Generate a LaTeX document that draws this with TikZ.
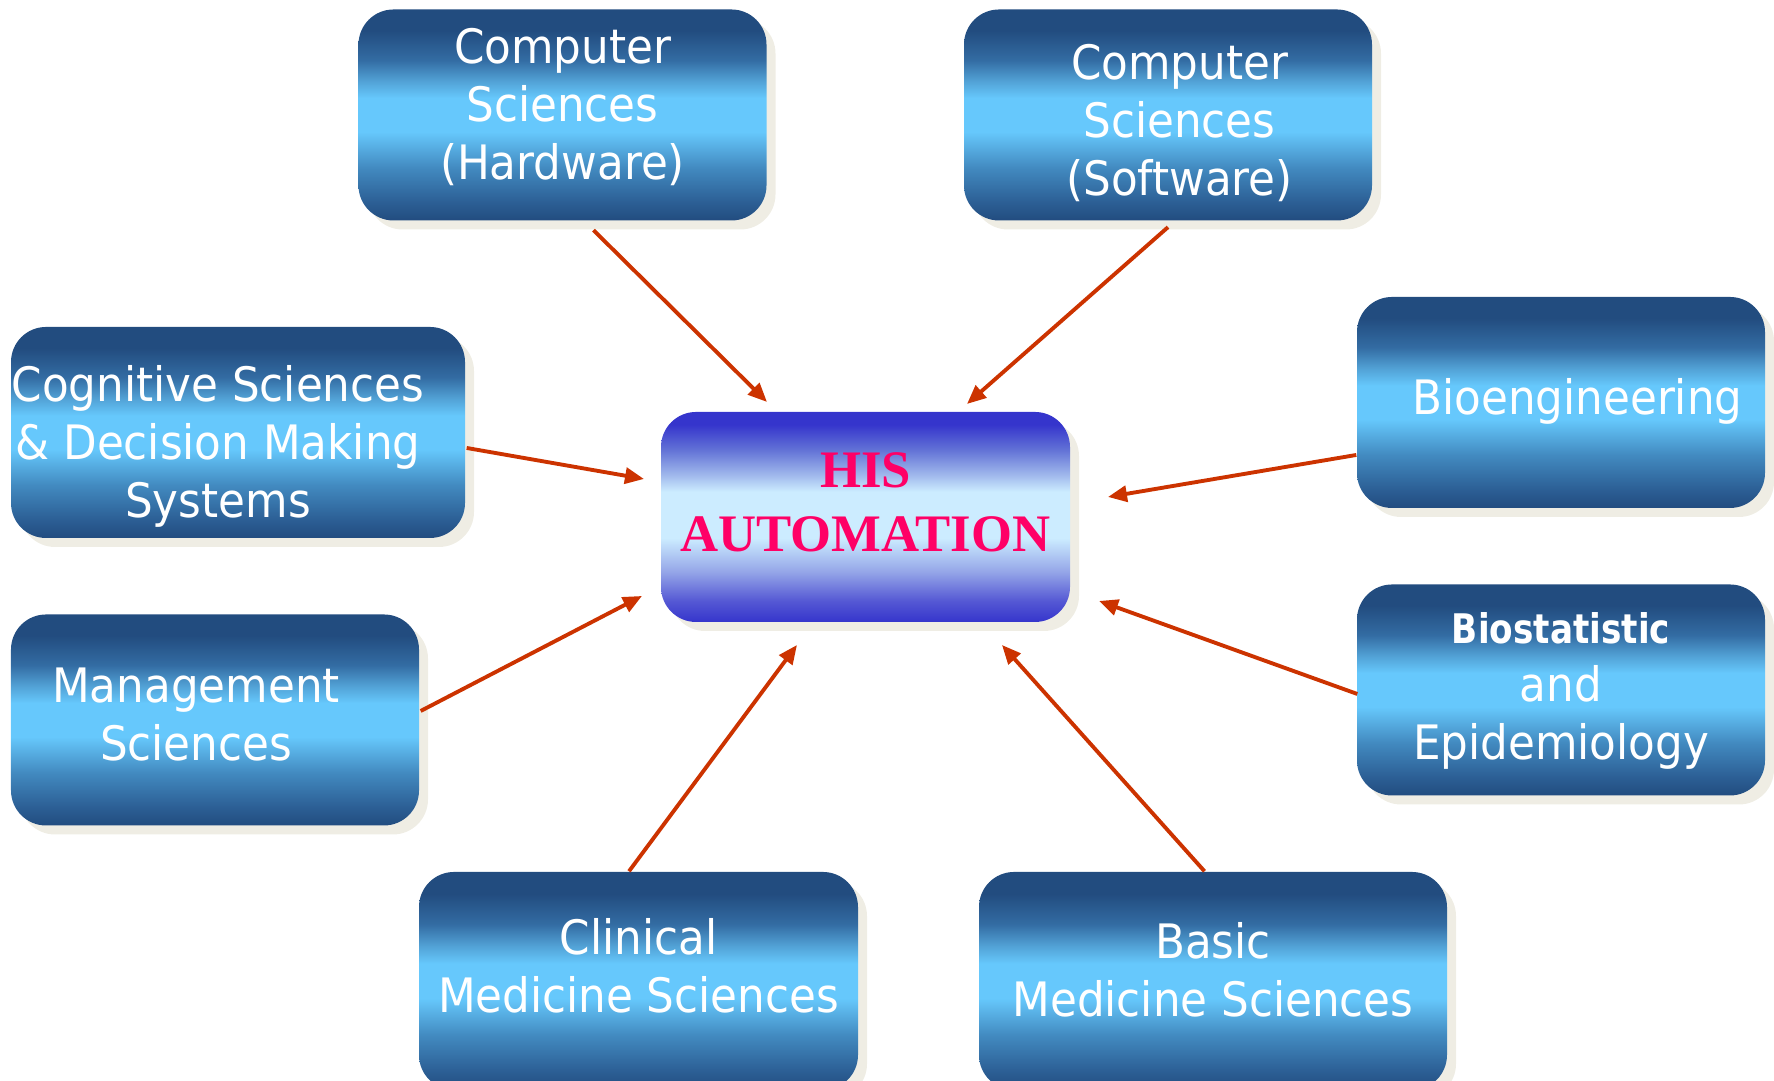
\documentclass[tikz,border=0pt]{standalone}
\usepackage{fontspec}
\setmainfont{DejaVu Sans}[FakeStretch=0.92]
\newfontfamily\hisfont{Liberation Serif}
\newfontfamily\narrowsans{DejaVu Sans}[FakeStretch=0.84]
\usepackage{xcolor}
\usepackage{tikz}
\usetikzlibrary{arrows.meta,shadows}

\definecolor{boxdark}{HTML}{224C7F}
\definecolor{boxmida}{HTML}{336CA3}
\definecolor{boxmidb}{HTML}{52A2D6}
\definecolor{boxmidc}{HTML}{428AC0}
\definecolor{boxmidd}{HTML}{2B5D93}
\definecolor{boxlight}{HTML}{66C8FC}
\definecolor{hisdark}{HTML}{3535CC}
\definecolor{hismida}{HTML}{6272D6}
\definecolor{hismidb}{HTML}{A0B8EC}
\definecolor{hismidc}{HTML}{95A6E8}
\definecolor{hismidd}{HTML}{5558D4}
\definecolor{hislight}{HTML}{CCECFF}
\definecolor{hisred}{HTML}{FF0066}
\definecolor{arrred}{HTML}{CC3300}
\definecolor{shad}{HTML}{EFEDE4}

\pgfdeclareverticalshading{boxshade}{100bp}{color(0bp)=(boxdark); color(25bp)=(boxdark);
  color(29bp)=(boxmidd); color(37.5bp)=(boxmidc); color(46bp)=(boxlight);
  color(54bp)=(boxlight); color(58bp)=(boxmidb); color(63bp)=(boxmida);
  color(70bp)=(boxdark); color(100bp)=(boxdark)}
\pgfdeclareverticalshading{hisshade}{100bp}{color(0bp)=(hisdark); color(25bp)=(hisdark);
  color(30bp)=(hismidd); color(37bp)=(hismidc); color(45bp)=(hislight);
  color(56bp)=(hislight); color(60bp)=(hismidb); color(66bp)=(hismida);
  color(72bp)=(hisdark); color(100bp)=(hisdark)}

% lines of a box: #1 = twice the sideways shift, #2 = lift, #3 = lines
\newcommand{\boxtext}[3]{\hspace*{#1}\raisebox{#2}[\height][\depth]{%
  \begin{tabular}{@{}c@{}}#3\end{tabular}}}

\begin{document}
\begin{tikzpicture}
\useasboundingbox (0,0) rectangle (17.74,10.81);
\tikzstyle{box}=[rectangle, rounded corners=0.35cm, shading=boxshade,
                 text=white, inner sep=0pt,
                 minimum width=4.08cm, minimum height=2.11cm,
                 font=\fontsize{13.5}{16.5}\selectfont,
                 drop shadow={shadow xshift=0.09cm, shadow yshift=-0.09cm,
                              fill=shad, opacity=1}]
\tikzstyle{arr}=[draw=arrred, line width=1.1pt,
                 -{Triangle[length=0.19cm,width=0.16cm]}, fill=arrred]
\node[box] (hw) at (5.625,9.66)
  {\boxtext{0cm}{0.055cm}{Computer\\Sciences\\(Hardware)}};
\node[box] (sw) at (11.68,9.66)
  {\boxtext{0.23cm}{-0.11cm}{Computer\\Sciences\\(Software)}};
\node[box, minimum width=4.54cm] (cog) at (2.38,6.485)
  {\boxtext{-0.4cm}{-0.15cm}{Cognitive Sciences\\\& Decision Making\\Systems}};
\node[box] (bio) at (15.61,6.785)
  {\boxtext{0.33cm}{0cm}{Bioengineering}};
\node[box] (mgmt) at (2.15,3.61)
  {\boxtext{-0.38cm}{0cm}{Management\\Sciences}};
\node[box] (stat) at (15.61,3.91)
  {\boxtext{0cm}{0cm}{{\narrowsans\bfseries\fontsize{11.6}{16.5}\selectfont Biostatistic}\\and\\Epidemiology}};
\node[box, minimum width=4.39cm, minimum height=2.18cm] (clin) at (6.385,1.0)
  {\boxtext{0cm}{0.095cm}{Clinical\\Medicine Sciences}};
\node[box, minimum width=4.68cm, minimum height=2.18cm] (basic) at (12.13,1.0)
  {\boxtext{0cm}{0.055cm}{Basic\\Medicine Sciences}};
\node[box, shading=hisshade, text=hisred, minimum width=4.09cm, minimum height=2.10cm,
      font=\hisfont\bfseries\fontsize{15}{18.2}\selectfont] (his) at (8.655,5.64)
  {\boxtext{0cm}{0.10cm}{HIS\\AUTOMATION}};
% arrow tips round the centre box
\coordinate (t1) at (7.67,6.79);
\coordinate (t2) at (9.67,6.77);
\coordinate (t3) at (6.44,6.02);
\coordinate (t4) at (11.08,5.84);
\coordinate (t5) at (6.42,4.85);
\coordinate (t6) at (10.99,4.80);
\coordinate (t7) at (7.97,4.36);
\coordinate (t8) at (10.02,4.36);
\foreach \i/\dx/\dy/\j in {hw.south/0.31/-0.09/t1, sw.south/0/-0.06/t2,
  cog.east/0.01/-0.155/t3, bio.west/0/-0.525/t4, mgmt.east/0.01/0.09/t5,
  stat.west/0.01/-0.04/t6, clin.north/-0.095/0/t7, basic.north/-0.085/0/t8}
  {\draw[arr] ([xshift=\dx cm,yshift=\dy cm]\i) -- (\j);}
\end{tikzpicture}
\end{document}
